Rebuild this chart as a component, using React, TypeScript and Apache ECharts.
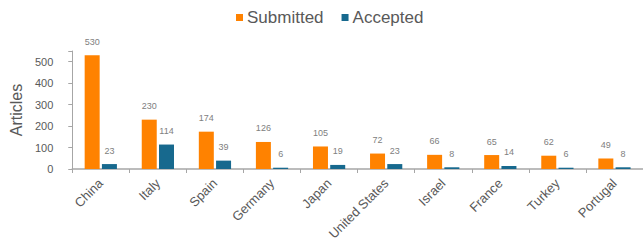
import React, { useEffect, useRef } from "react";
import * as echarts from "echarts";

const countries = ["China", "Italy", "Spain", "Germany", "Japan", "United States", "Israel", "France", "Turkey", "Portugal"];
const submitted = [530, 230, 174, 126, 105, 72, 66, 65, 62, 49];
const accepted = [23, 114, 39, 6, 19, 23, 8, 14, 6, 8];
const seriesNames = ["Submitted", "Accepted"];

export default function App() {
  const ref = useRef<HTMLDivElement>(null);
  useEffect(() => {
    if (!ref.current) return;
    const chart = echarts.init(ref.current, null, { renderer: "svg" });
    const labelStyle = {
      show: true,
      position: "top",
      distance: 9,
      fontSize: 9,
      color: "#808080",
      fontFamily: "Liberation Sans, Arial, sans-serif",
    };
    chart.setOption({
      animation: false,
      textStyle: { fontFamily: "Liberation Sans, Arial, sans-serif" },
      legend: {
        data: seriesNames,
        left: 231,
        top: 4,
        icon: "rect",
        itemWidth: 7,
        itemHeight: 7,
        itemGap: 18,
        textStyle: { fontSize: 17, color: "#595959", padding: [0, 0, 0, -1] },
      },
      grid: { left: 72, top: 51, width: 580, height: 118, containLabel: false },
      xAxis: {
        type: "category",
        data: countries,
        axisLine: { lineStyle: { color: "#a6a6a6", width: 1.5 } },
        axisTick: { show: true, length: 4, lineStyle: { color: "#a6a6a6" } },
        axisLabel: { rotate: 45, fontSize: 13, color: "#595959", margin: 12, interval: 0 },
      },
      yAxis: {
        type: "value",
        min: 0,
        max: 550,
        interval: 100,
        name: "Articles",
        nameLocation: "middle",
        nameGap: 42,
        nameTextStyle: { fontSize: 16, color: "#595959" },
        splitLine: { show: false },
        axisLine: { show: true, lineStyle: { color: "#a6a6a6" } },
        axisTick: { show: true, length: 4, lineStyle: { color: "#a6a6a6" } },
        axisLabel: {
          fontSize: 11,
          color: "#595959",
          margin: 19,
          formatter: (v: number) => (v % 100 === 0 ? String(v) : ""),
        },
      },
      series: [
        {
          name: seriesNames[0],
          type: "bar",
          data: submitted,
          barWidth: 15,
          barGap: "15%",
          itemStyle: { color: "#FF8200" },
          label: labelStyle,
        },
        {
          name: seriesNames[1],
          type: "bar",
          data: accepted,
          barWidth: 15,
          itemStyle: { color: "#17698E" },
          label: labelStyle,
        },
      ],
    });
    return () => chart.dispose();
  }, []);
  return <div ref={ref} style={{ width: 643, height: 248, position: "absolute", left: 0, top: 0 }} />;
}
